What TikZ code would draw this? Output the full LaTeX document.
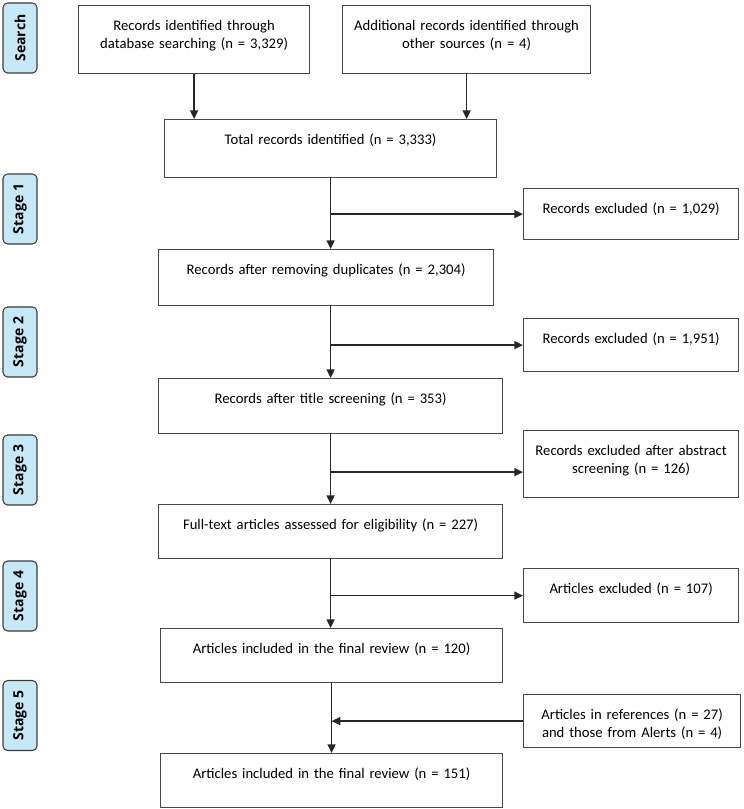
\documentclass[tikz,border=0pt]{standalone}
\usepackage{fontspec}
\setmainfont{Carlito}
\newfontfamily\tabfont{Open Sans}
\usetikzlibrary{arrows.meta}
\definecolor{tabblue}{HTML}{C7E8F6}
\definecolor{tabline}{HTML}{3C3C3C}
\definecolor{boxline}{HTML}{474747}
\definecolor{arrline}{HTML}{262626}
\tikzset{
  rec/.style 2 args={draw=boxline,line width=0.9pt,inner sep=0pt,align=center,
    text width=#1,text height=18.75pt,text depth=#2,anchor=north west,
    font=\fontsize{11}{13.2}\selectfont},
  stagetab/.style={draw=tabline,fill=tabblue,line width=0.8pt,rounded corners=3.5pt,
    rotate=90,minimum width=52.5pt,minimum height=25.5pt,inner sep=0pt,
    font=\tabfont\bfseries\fontsize{10.5}{12}\selectfont},
  arr/.style={draw=arrline,line width=1.1pt,-{Triangle[length=6.5pt,width=6pt]}}
}
\begin{document}
\begin{tikzpicture}[x=0.75pt,y=-0.75pt]
\useasboundingbox (0,0) rectangle (743,809);
% Stages
\node[stagetab] (search) at (20,38) {Search};
\node[stagetab] (st1) at (20,209) {Stage 1};
\node[stagetab] (st2) at (20,342) {Stage 2};
\node[stagetab] (st3) at (20,470) {Stage 3};
\node[stagetab] (st4) at (20,596) {Stage 4};
\node[stagetab] (st5) at (20,715.5) {Stage 5};
% Records
\node[rec={173.25pt}{32.25pt}] (db) at (78,5) {Records identified through\\database searching (n = 3,329)};
\node[rec={186pt}{32.25pt}] (other) at (342,5) {Additional records identified through\\other sources (n = 4)};
\node[rec={249pt}{24.75pt}] (total) at (164,119) {Total records identified (n = 3,333)};
\node[rec={251.25pt}{23.25pt}] (dup) at (158,249) {Records after removing duplicates (n = 2,304)};
\node[rec={258pt}{22.5pt}] (title) at (158,378) {Records after title screening (n = 353)};
\node[rec={258pt}{21.75pt}] (full) at (158,504) {Full-text articles assessed for eligibility (n = 227)};
\node[rec={256.5pt}{21.75pt}] (inc1) at (160,628) {Articles included in the final review (n = 120)};
\node[rec={256.5pt}{21.75pt}] (inc2) at (160,753) {Articles included in the final review (n = 151)};
% Excluded
\node[rec={161.25pt}{19.5pt}] (ex1) at (523,188) {Records excluded (n = 1,029)};
\node[rec={161.25pt}{21pt}] (ex2) at (523,318) {Records excluded (n = 1,951)};
\node[rec={161.25pt}{31.5pt}] (ex3) at (523,430) {Records excluded after abstract\\screening (n = 126)};
\node[rec={161.25pt}{21.75pt}] (ex4) at (523,568) {Articles excluded (n = 107)};
\node[rec={162.75pt}{21pt}] (refs) at (523,694) {Articles in references (n = 27)\\and those from Alerts (n = 4)};
\coordinate (s3) at ([yshift=-6pt]ex3.west);
% Flow
\draw[arr] (db.south) -- (db.south |- total.north);
\draw[arr] (other.south) -- (other.south |- total.north);
\draw[arr] (total.south) -- (total.south |- dup.north);
\draw[arr] (title.north |- dup.south) -- (title.north);
\draw[arr] (title.south) -- (full.north);
\draw[arr] (full.south) -- (full.south |- inc1.north);
\draw[arr] (inc1.south) -- (inc2.north);
% Side arrows
\draw[arr] (total.south |- ex1.west) -- (ex1.west);
\draw[arr] (title.north |- ex2.west) -- (ex2.west);
\draw[arr] (title.south |- s3) -- (s3);
\draw[arr] (full.south |- ex4.west) -- (ex4.west);
\draw[arr] (refs.west) -- (refs.west -| inc1.south);
\end{tikzpicture}
\end{document}
